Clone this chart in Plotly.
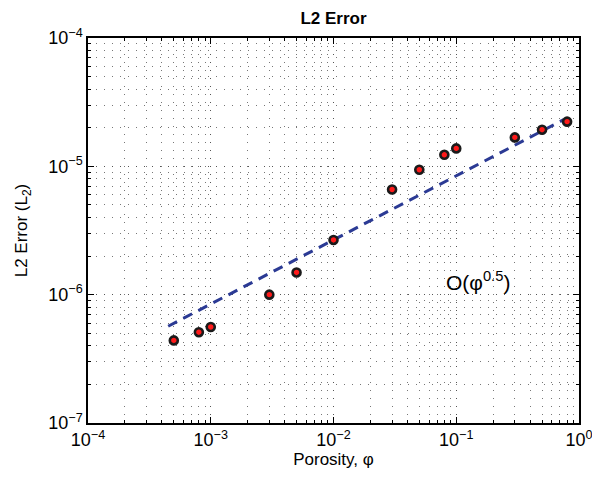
import plotly.graph_objects as go

# Data
porosity = [5e-4, 8e-4, 1e-3, 3e-3, 5e-3, 1e-2, 3e-2, 5e-2, 8e-2, 1e-1, 3e-1, 5e-1, 8e-1]
l2_error = [4.4e-7, 5.1e-7, 5.6e-7, 1.0e-6, 1.49e-6, 2.67e-6, 6.6e-6, 9.4e-6,
            1.23e-5, 1.38e-5, 1.68e-5, 1.93e-5, 2.23e-5]

# O(phi^0.5) reference line endpoints
ref_x = [4.5e-4, 0.75]
ref_y = [5.67e-7, 2.31e-5]

# Tick labels
x_tickvals = [1e-4, 1e-3, 1e-2, 1e-1, 1e0]
x_ticktext = ["10<sup>−4</sup>", "10<sup>−3</sup>", "10<sup>−2</sup>", "10<sup>−1</sup>", "10<sup>0</sup>"]
y_tickvals = [1e-7, 1e-6, 1e-5, 1e-4]
y_ticktext = ["10<sup>−7</sup>", "10<sup>−6</sup>", "10<sup>−5</sup>", "10<sup>−4</sup>"]

FONT = "Liberation Sans, Arial, Helvetica, sans-serif"

fig = go.Figure()
fig.add_trace(go.Scatter(
    x=ref_x, y=ref_y, mode="lines",
    line=dict(color="#2b3a94", width=3, dash="10px,7px"),
    showlegend=False,
))
fig.add_trace(go.Scatter(
    x=porosity, y=l2_error, mode="markers",
    marker=dict(size=8, color="#ff1a1a", line=dict(color="#1a1a1a", width=2.6)),
    showlegend=False,
))

axis_common = dict(
    type="log",
    showline=True, linecolor="black", linewidth=1.5, mirror="allticks",
    ticks="inside", ticklen=6, tickcolor="black", tickwidth=1,
    showgrid=True, gridcolor="#555", griddash="1px,7px", gridwidth=1,
    tickfont=dict(family=FONT, size=18, color="black"),
    ticklabeloverflow="allow",
    minor=dict(dtick="D1", ticks="inside", ticklen=3, tickcolor="black",
               showgrid=True, gridcolor="#777", griddash="1px,7px", gridwidth=1),
    zeroline=False,
)

fig.update_layout(
    width=592, height=480,
    margin=dict(l=88, r=13, t=38, b=57, autoexpand=False),
    paper_bgcolor="white", plot_bgcolor="white",
    font=dict(family=FONT, color="black"),
    title=dict(text="<b>L2 Error</b>", x=(88 + 579) / 2 / 592, xanchor="center",
               y=1 - 18 / 480, yanchor="middle", font=dict(size=17, family=FONT)),
    xaxis=dict(axis_common, range=[-4, 0], tickvals=x_tickvals, ticktext=x_ticktext,
               title=dict(text="Porosity, φ", font=dict(size=17, family=FONT), standoff=4)),
    yaxis=dict(axis_common, range=[-7, -4], tickvals=y_tickvals, ticktext=y_ticktext,
               title=dict(text="L2 Error (L<sub>2</sub>)", font=dict(size=17, family=FONT), standoff=16)),
    annotations=[dict(
        x=-0.823, y=-5.895, xref="x", yref="y", showarrow=False,
        text="O(φ<sup>0.5</sup>)", font=dict(size=21, family=FONT, color="black"),
    )],
)

fig.write_html("out.html")
